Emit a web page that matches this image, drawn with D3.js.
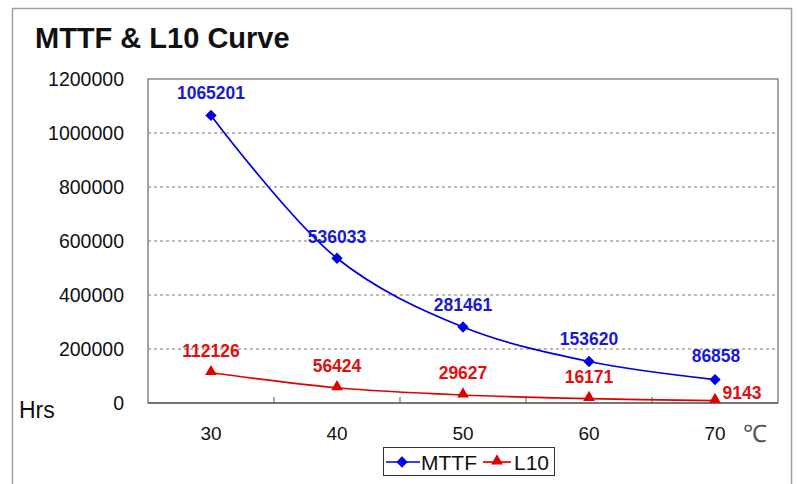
<!DOCTYPE html>
<html><head><meta charset="utf-8">
<script src="https://cdn.jsdelivr.net/npm/d3@7"></script>
<style>body{margin:0;background:#fff}svg{display:block;font-family:"Liberation Sans",Arial,sans-serif}</style>
</head><body>
<svg id="c" width="798" height="484"></svg>
<script>
const temps = ["30","40","50","60","70"];
const mttf = [1065201, 536033, 281461, 153620, 86858];
const l10 = [112126, 56424, 29627, 16171, 9143];
const yTicks = [0,200000,400000,600000,800000,1000000,1200000];

const svg = d3.select("#c");
const L=148,R=778,T=79,B=403;
svg.append("rect").attr("x",12.5).attr("y",8.5).attr("width",779).attr("height",490)
  .attr("fill","#fff").attr("stroke","#a0a0a0").attr("stroke-width",1.5);
svg.append("text").attr("x",35).attr("y",48).attr("font-size",29).attr("font-weight","bold").attr("fill","#111").text("MTTF & L10 Curve");

const x = d3.scaleBand().domain(temps).range([L,R]);
const y = d3.scaleLinear().domain([0,1200000]).range([B,T]);
const cx = d => x(d)+x.bandwidth()/2;

// gridlines
svg.append("g").selectAll("line").data(yTicks.slice(1,-1)).join("line")
  .attr("x1",L).attr("x2",R).attr("y1",d=>y(d)).attr("y2",d=>y(d))
  .attr("stroke","#777").attr("stroke-dasharray","3,3").attr("stroke-width",1);
// plot border
svg.append("rect").attr("x",L).attr("y",T).attr("width",R-L).attr("height",B-T)
  .attr("fill","none").attr("stroke","#888").attr("stroke-width",1.5);
// y labels
svg.append("g").selectAll("text").data(yTicks).join("text")
  .attr("x",124).attr("y",d=>y(d)+7).attr("text-anchor","end").attr("font-size",19.5).attr("fill","#111")
  .text(d=>d);
// x ticks (inward) at band boundaries
svg.append("g").selectAll("line").data(temps.slice(1)).join("line")
  .attr("x1",d=>x(d)).attr("x2",d=>x(d)).attr("y1",B).attr("y2",B-6).attr("stroke","#555");
svg.append("line").attr("x1",L).attr("x2",R).attr("y1",B).attr("y2",B).attr("stroke","#666").attr("stroke-width",1.5);
svg.append("g").selectAll("text").data(temps).join("text")
  .attr("x",d=>cx(d)).attr("y",440).attr("text-anchor","middle").attr("font-size",19).attr("fill","#111").text(d=>d);
svg.append("text").attr("x",19).attr("y",418).attr("font-size",23).attr("fill","#111").text("Hrs");
svg.append("text").attr("x",743).attr("y",442).attr("font-size",24).attr("fill","#555").text("℃");

const line = d3.line().x((d,i)=>cx(temps[i])).y(d=>y(d)).curve(d3.curveCatmullRom.alpha(0.5));
svg.append("path").attr("d",line(mttf)).attr("fill","none").attr("stroke","#0000e0").attr("stroke-width",1.7);
svg.append("path").attr("d",line(l10)).attr("fill","none").attr("stroke","#e00000").attr("stroke-width",1.7);

const diamond = d3.symbol().type(d3.symbolSquare).size(64);
const tri = d3.symbol().type(d3.symbolTriangle).size(60);
svg.append("g").selectAll("path").data(mttf).join("path").attr("d",diamond)
  .attr("transform",(d,i)=>`translate(${cx(temps[i])},${y(d)}) rotate(45)`).attr("fill","#0000e0");
svg.append("g").selectAll("path").data(l10).join("path").attr("d",tri)
  .attr("transform",(d,i)=>`translate(${cx(temps[i])},${y(d)-1})`).attr("fill","#e00000");

// labels
const mOff=[-16,-15,-16,-16.5,-17.5];
svg.append("g").selectAll("text").data(mttf).join("text")
  .attr("x",(d,i)=>cx(temps[i])+(i==4?1:0)).attr("y",(d,i)=>y(d)+mOff[i]).attr("text-anchor","middle")
  .attr("font-size",17.5).attr("font-weight","bold").attr("fill","#1a1ad0").text(d=>d);
const lDx=[0,0,0,0,27], lDy=[-16,-16,-16,-15.5,-1.5];
svg.append("g").selectAll("text").data(l10).join("text")
  .attr("x",(d,i)=>cx(temps[i])+lDx[i]).attr("y",(d,i)=>y(d)+lDy[i]).attr("text-anchor","middle")
  .attr("font-size",17.5).attr("font-weight","bold").attr("fill","#e01010").text(d=>d);

// legend
const lg = svg.append("g");
lg.append("rect").attr("x",383.5).attr("y",447.5).attr("width",171).attr("height",28).attr("fill","#fff").attr("stroke","#333");
lg.append("line").attr("x1",386).attr("x2",420).attr("y1",462).attr("y2",462).attr("stroke","#0000e0").attr("stroke-width",1.7);
lg.append("path").attr("d",diamond).attr("transform","translate(402,462) rotate(45)").attr("fill","#0000e0");
lg.append("text").attr("x",421).attr("y",470).attr("font-size",21).attr("fill","#111").text("MTTF");
lg.append("line").attr("x1",483).attr("x2",511).attr("y1",462).attr("y2",462).attr("stroke","#e00000").attr("stroke-width",1.7);
lg.append("path").attr("d",tri).attr("transform","translate(497,461)").attr("fill","#e00000");
lg.append("text").attr("x",514).attr("y",470).attr("font-size",21).attr("fill","#111").text("L10");
</script>
</body></html>
